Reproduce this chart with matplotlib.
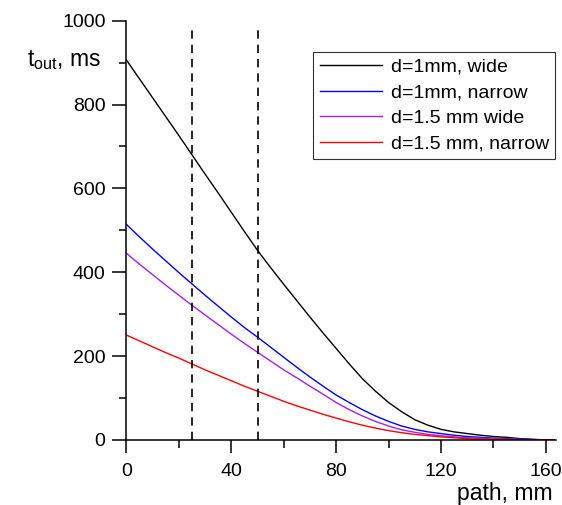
import matplotlib
matplotlib.use("Agg")
import matplotlib.pyplot as plt
from matplotlib.ticker import MultipleLocator

plt.rcParams['font.family'] = ['Liberation Sans', 'DejaVu Sans']
plt.rcParams['mathtext.fontset'] = 'custom'
plt.rcParams['mathtext.rm'] = 'Liberation Sans'
plt.rcParams['mathtext.it'] = 'Liberation Sans'

x = [0, 5, 10, 15, 20, 25, 30, 35, 40, 45, 50, 55, 60, 65, 70, 75, 80, 85, 90, 95,
     100, 105, 110, 115, 120, 125, 130, 135, 140, 145, 150, 155, 160, 163]
black = [906, 861, 816, 771, 726, 680, 634, 589, 543, 497, 452, 411, 371, 332, 293, 255,
         218, 181, 146, 116, 89, 67, 48, 35, 25, 19, 15, 11, 8, 6, 3, 1, 0, 0]
blue = [514, 484, 455, 427, 399, 372, 345, 319, 293, 268, 245, 221, 197, 173, 150, 128,
        107, 89, 72, 57, 44, 33, 25, 19, 15, 11, 8, 6, 4, 3, 2, 1, 0, 0]
purple = [445, 419, 394, 369, 345, 321, 298, 275, 252, 230, 209, 188, 167, 148, 128, 109,
          89, 72, 57, 44, 33, 24, 18, 13, 10, 7, 5, 4, 3, 2, 1, 0.5, 0, 0]
red = [250, 236, 222, 208, 195, 181, 167, 154, 141, 128, 116, 104, 92, 81, 71, 61,
       52, 43, 35, 28, 22, 17, 13, 10, 7, 5, 3, 2, 1.5, 1, 0.5, 0, 0, 0]
labels = ["d=1mm, wide", "d=1mm, narrow", "d=1.5 mm wide", "d=1.5 mm, narrow"]
colors = ["black", "#0000FF", "#A020F0", "#FF0000"]
vlines = [25, 50]

fig = plt.figure(figsize=(5.62, 5.05), dpi=100)
ax = fig.add_axes([0.225, 0.129, 0.765, 0.830])

for ys, lab, c in zip([black, blue, purple, red], labels, colors):
    ax.plot(x, ys, color=c, lw=1.0, label=lab)

for v in vlines:
    ax.axvline(v, ymin=0, ymax=0.984, color="black", lw=1.2, dashes=(5, 3.6))

ax.set_xlim(0, 164)
ax.set_ylim(0, 1000)
ax.spines['top'].set_visible(False)
ax.spines['right'].set_visible(False)
for s in ['left', 'bottom']:
    ax.spines[s].set_linewidth(1.1)

ax.xaxis.set_major_locator(MultipleLocator(40))
ax.xaxis.set_minor_locator(MultipleLocator(20))
ax.yaxis.set_major_locator(MultipleLocator(200))
ax.yaxis.set_minor_locator(MultipleLocator(100))
ax.tick_params(axis='both', which='both', direction='out', width=1.1, labelsize=14)
ax.tick_params(axis='y', which='major', length=10, pad=5)
ax.tick_params(axis='y', which='minor', length=5)
ax.tick_params(axis='x', which='major', length=9.5, pad=7)
ax.tick_params(axis='x', which='minor', length=5.5)

fig.text(27 / 562, 1 - 66 / 505, r"t$_{\mathrm{out}}$, ms", fontsize=16.6,
         ha='left', va='baseline')
fig.text(553 / 562, 1 - 500 / 505, "path, mm", fontsize=16.6,
         ha='right', va='baseline')

leg = ax.legend(loc='upper right', bbox_to_anchor=(555 / 562, 1 - 51.7 / 505),
                bbox_transform=fig.transFigure, fontsize=14, frameon=True,
                fancybox=False, edgecolor='#333333', framealpha=1,
                handlelength=3.2, handletextpad=0.45, labelspacing=0.42,
                borderpad=0.32, borderaxespad=0)
leg.get_frame().set_linewidth(0.8)

fig.savefig("out.png", dpi=100)
